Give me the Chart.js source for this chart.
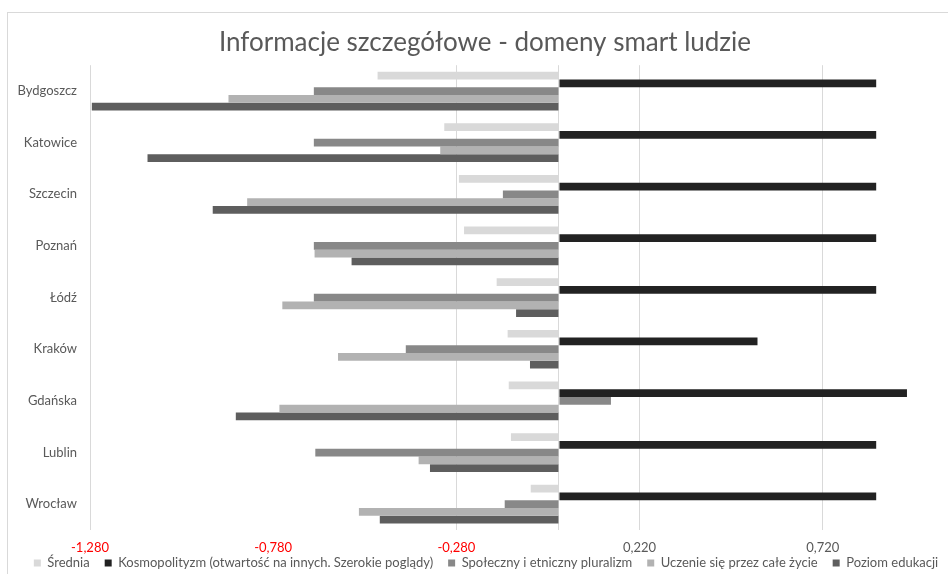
<!DOCTYPE html>
<html>
<head>
<meta charset="utf-8">
<script src="https://cdn.jsdelivr.net/npm/chart.js@4.4.1/dist/chart.umd.min.js"></script>
<style>
html,body{margin:0;padding:0;background:#fff;}
#wrap{position:relative;width:948px;height:574px;}
</style>
</head>
<body>
<div id="wrap"><canvas id="c" width="948" height="574"></canvas></div>
<script>
const categories = ['Bydgoszcz','Katowice','Szczecin','Poznań','Łódź','Kraków','Gdańska','Lublin','Wrocław'];
const srednia       = [-0.495, -0.313, -0.273, -0.259, -0.170, -0.140, -0.137, -0.131, -0.077];
const kosmopolityzm = [ 0.866,  0.866,  0.866,  0.866,  0.866,  0.542,  0.950,  0.866,  0.866];
const pluralizm     = [-0.669, -0.669, -0.153, -0.669, -0.669, -0.418,  0.142, -0.665, -0.148];
const uczenie       = [-0.902, -0.324, -0.851, -0.667, -0.755, -0.603, -0.763, -0.383, -0.546];
const edukacja      = [-1.275, -1.123, -0.945, -0.566, -0.117, -0.079, -0.882, -0.352, -0.489];
const seriesNames = ['Średnia','Kosmopolityzm (otwartość na innych. Szerokie poglądy)','Społeczny i etniczny pluralizm','Uczenie się przez całe życie','Poziom edukacji'];
const xTicks = [-1.28, -0.78, -0.28, 0, 0.22, 0.72];
const xMin = -1.28, xMax = 1.062;
const titleText = 'Informacje szczegółowe - domeny smart ludzie';

const colors = ['#d9d9d9','#222222','#888888','#b2b2b2','#5e5e5e'];
const seriesData = [srednia, kosmopolityzm, pluralizm, uczenie, edukacja];

const frame = {
  id:'frame',
  beforeDraw(chart){
    const c = chart.ctx;
    c.save();
    c.fillStyle='#fff';
    c.fillRect(0,0,chart.width,chart.height);
    c.strokeStyle='#d9d9d9';
    c.lineWidth=1;
    c.strokeRect(7.5,12.5,chart.width+10,chart.height+10);
    c.restore();
  }
};

const boxFix = {
  id:'boxFix',
  beforeUpdate(chart){
    const lg = chart.legend;
    if (lg && !lg._patched){
      const orig = lg.fit;
      lg.fit = function(){ orig.call(this); if (this.height) this.height = 18; };
      lg.draw = function(){
        if (!this.options.display) return;
        const c = this.ctx;
        c.save(); c.translate(12, -14.5); this._draw(); c.restore();
      };
      lg._patched = true;
    }
    const tb = chart.titleBlock;
    if (tb && !tb._patched){
      const o = tb.draw;
      tb.draw = function(a){
        const c = this.ctx;
        c.save(); c.translate(11, 0); o.call(this, a); c.restore();
      };
      tb._patched = true;
    }
  }
};

const FONT = 'Lato';
new Chart(document.getElementById('c'), {
  type:'bar',
  data:{
    labels:categories,
    datasets: seriesData.map((d,i)=>({
      label:seriesNames[i], data:d, backgroundColor:colors[i],
      borderWidth:0, barPercentage:1, categoryPercentage:0.75
    }))
  },
  options:{
    indexAxis:'y',
    responsive:false,
    animation:false,
    devicePixelRatio:1,
    layout:{padding:{left:0,right:0,top:0,bottom:0}},
    plugins:{
      title:{display:true,text:titleText,color:'#595959',
        font:{family:FONT,size:26,weight:'normal'},padding:{top:27,bottom:7}},
      legend:{position:'bottom',
        labels:{boxWidth:7,boxHeight:7,padding:15,color:'#595959',
          font:{family:FONT,size:13}}},
      tooltip:{enabled:false}
    },
    scales:{
      x:{
        min:xMin,max:xMax,
        afterBuildTicks(s){ s.ticks = xTicks.map(v=>({value:v})); },
        afterFit(s){ s.height = 26; },
        grid:{drawTicks:false,
          color:ctx=> (ctx.tick && Math.abs(ctx.tick.value+0.78)<1e-9) ? 'rgba(0,0,0,0)' : '#d9d9d9'},
        border:{display:false},
        ticks:{padding:10,autoSkip:false,maxRotation:0,
          font:{family:FONT,size:13},
          color:ctx=> ctx.tick.value<0 ? '#ff0000' : '#595959',
          callback:v=> v===0 ? '' : v.toFixed(3).replace('.',',')}
      },
      y:{
        afterFit(s){ s.width = 90; },
        grid:{display:false,drawTicks:false},
        border:{display:false},
        ticks:{padding:13,color:'#595959',font:{family:FONT,size:13}}
      }
    }
  },
  plugins:[frame, boxFix]
});
</script>
</body>
</html>
